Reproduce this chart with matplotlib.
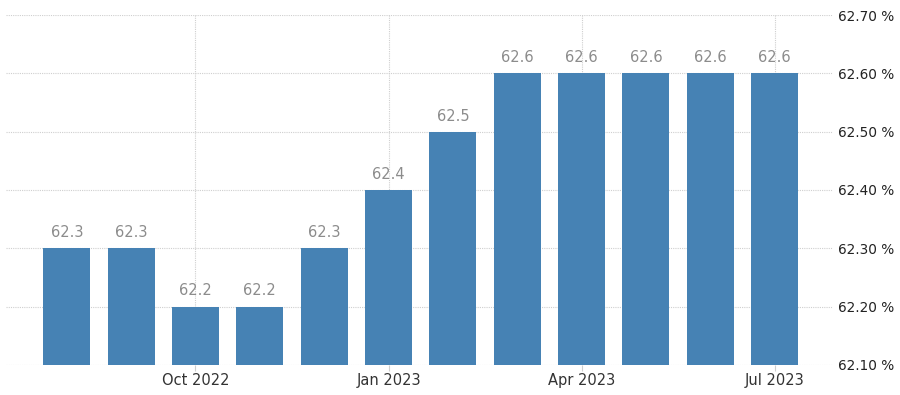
import matplotlib
matplotlib.use("Agg")
import matplotlib.pyplot as plt
from matplotlib.ticker import FixedLocator

months = ["Aug 2022", "Sep 2022", "Oct 2022", "Nov 2022", "Dec 2022", "Jan 2023",
          "Feb 2023", "Mar 2023", "Apr 2023", "May 2023", "Jun 2023", "Jul 2023"]
values = [62.3, 62.3, 62.2, 62.2, 62.3, 62.4, 62.5, 62.6, 62.6, 62.6, 62.6, 62.6]
xtick_labels = ["Oct 2022", "Jan 2023", "Apr 2023", "Jul 2023"]
ytick_values = [62.1, 62.2, 62.3, 62.4, 62.5, 62.6, 62.7]

fig = plt.figure(figsize=(9, 3.95), dpi=100)
ax = fig.add_axes([0.007, 0.076, 0.918, 0.886])

x = list(range(len(months)))
base = 62.1
ax.bar(x, [v - base for v in values], bottom=base, width=0.73, color="#4682b4", zorder=3)

for xi, v in zip(x, values):
    ax.text(xi, v + 0.014, f"{v:.1f}", ha="center", va="bottom", fontsize=10.5,
            color="#8c8c8c", zorder=4)

ax.set_xlim(-0.94, 11.9)
ax.set_ylim(62.1, 62.7)

tick_pos = [months.index(m) for m in xtick_labels]
ax.xaxis.set_major_locator(FixedLocator(tick_pos))
ax.set_xticklabels(xtick_labels)
ax.yaxis.set_major_locator(FixedLocator(ytick_values))
ax.set_yticklabels([f"{v:.2f} %" for v in ytick_values])
ax.yaxis.tick_right()

ax.grid(True, color="#cfcfcf", linestyle=(0, (1, 1)), linewidth=0.8, zorder=0)
for s in ax.spines.values():
    s.set_visible(False)

ax.tick_params(axis="x", length=4, color="#cfcfcf", labelsize=10.5, labelcolor="#333333", pad=2)
ax.tick_params(axis="y", length=0, labelsize=9.8, labelcolor="#222222", pad=4)

fig.savefig("out.png", dpi=100)
